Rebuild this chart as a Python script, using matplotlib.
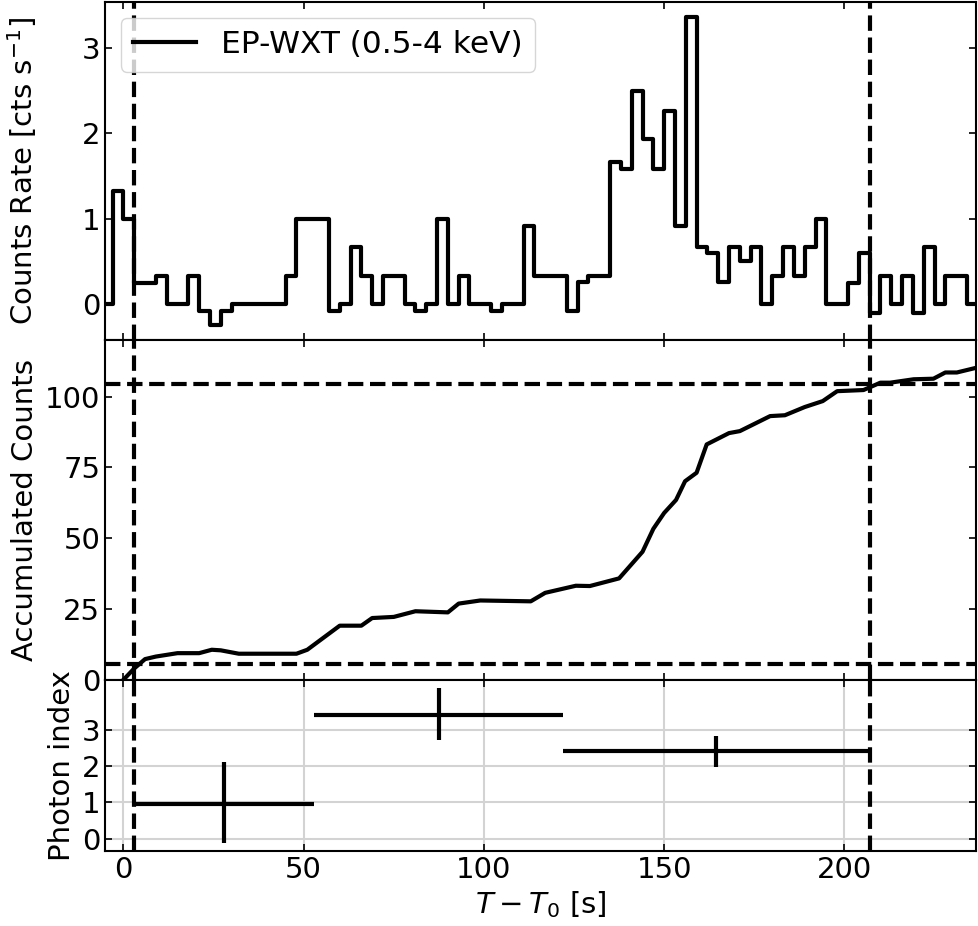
import numpy as np
import matplotlib
matplotlib.use('Agg')
import matplotlib.pyplot as plt
plt.rcParams.update({'font.size': 21})

# light curve, 3 s bins starting at -6 s
bin_width = 3.0
t_first = -6.0
rate = [0.0, 1.33, 1.0, 0.25, 0.25, 0.33, 0.0, 0.0, 0.33, -0.08,
        -0.24, -0.08, 0.0, 0.0, 0.0, 0.0, 0.0, 0.33, 1.0, 1.0,
        1.0, -0.08, 0.0, 0.67, 0.33, 0.0, 0.33, 0.33, 0.0, -0.08,
        0.0, 1.0, 0.0, 0.33, 0.0, 0.0, -0.08, 0.0, 0.0, 0.92,
        0.33, 0.33, 0.33, -0.08, 0.26, 0.33, 0.33, 1.67, 1.58, 2.50,
        1.94, 1.58, 2.26, 0.92, 3.36, 0.67, 0.60, 0.26, 0.67, 0.50,
        0.67, 0.0, 0.33, 0.67, 0.33, 0.67, 1.0, 0.0, 0.0, 0.25,
        0.60, -0.10, 0.33, 0.0, 0.33, -0.10, 0.67, 0.0, 0.33, 0.33,
        0.0]

# accumulated counts
acc_t = [0, 3, 6, 9, 15, 21, 24.5, 27, 32, 48, 51, 60, 66, 69, 75, 81, 90, 93,
         99, 113, 117, 125.5, 129.4, 137.5, 144, 147, 150, 153.3, 155.8, 159,
         161.8, 168, 171, 179.4, 183.5, 189, 194, 198, 205.3, 210, 212.7,
         219.2, 224.7, 228, 231.2, 236.7]
acc_counts = [0, 4, 7.3, 8.2, 9.4, 9.4, 10.6, 10.4, 9.2, 9.2, 10.6, 19.1, 19.1,
              21.8, 22.2, 24.2, 23.8, 26.9, 28.0, 27.7, 30.7, 33.2, 33.1, 35.8,
              45.2, 53.3, 58.9, 63.5, 70.1, 73.1, 83.1, 87.1, 87.8, 93.1, 93.4,
              96.3, 98.4, 101.9, 102.3, 104.9, 104.9, 106.1, 106.3, 108.5,
              108.5, 110.2]

# photon index in three intervals
pi_t = [28.0, 87.5, 164.5]
pi_terr = [25.0, 34.5, 42.5]
pi_val = [0.95, 3.43, 2.42]
pi_lo = [1.07, 0.71, 0.45]
pi_hi = [1.17, 0.75, 0.43]

t_start, t_stop = 3.0, 207.0
c_lo, c_hi = 5.5, 104.5

edges = t_first + bin_width * np.arange(len(rate) + 1)
step_y = rate + [rate[-1]]

fig = plt.figure(figsize=(9.79, 9.26), dpi=100)
gs = fig.add_gridspec(3, 1, height_ratios=[338, 340, 171], hspace=0,
                      left=0.1073, right=0.9969, top=0.9978, bottom=0.0813)
ax1 = fig.add_subplot(gs[0])
ax2 = fig.add_subplot(gs[1], sharex=ax1)
ax3 = fig.add_subplot(gs[2], sharex=ax1)

ax1.step(edges, step_y, where='post', color='k', lw=3, label='EP-WXT (0.5-4 keV)')
ax1.legend(loc='upper left', fontsize=22.5, handlelength=2.0)
ax1.set_ylabel(r'Counts Rate [cts s$^{-1}$]')
ax1.set_yticks([0, 1, 2, 3])

ax2.plot(acc_t, acc_counts, color='k', lw=3)
ax2.axhline(c_lo, color='k', ls='--', lw=3)
ax2.axhline(c_hi, color='k', ls='--', lw=3)
ax2.set_ylim(0, 120)
ax2.set_yticks([0, 25, 50, 75, 100])
ax2.set_ylabel('Accumulated Counts')

ax3.errorbar(pi_t, pi_val, xerr=pi_terr, yerr=[pi_lo, pi_hi], fmt='none',
             ecolor='k', elinewidth=3)
ax3.set_yticks([0, 1, 2, 3])
ax3.grid(True, color='lightgray', lw=1.5)
ax3.set_axisbelow(True)
ax3.set_ylabel('Photon index')
ax3.set_xlabel(r'$T-T_0$ [s]')

for ax in (ax1, ax2, ax3):
    ax.axvline(t_start, color='k', ls='--', lw=3)
    ax.axvline(t_stop, color='k', ls='--', lw=3)
    ax.tick_params(direction='in', top=True, right=True, length=5, width=1.2)
    for sp in ax.spines.values():
        sp.set_linewidth(1.5)
for ax in (ax1, ax2):
    ax.tick_params(labelbottom=False)

ax1.set_xlim(-5.1, 236.5)
ax3.set_xticks([0, 50, 100, 150, 200])
fig.align_ylabels([ax1, ax2])

fig.savefig('out.png', dpi=100)
